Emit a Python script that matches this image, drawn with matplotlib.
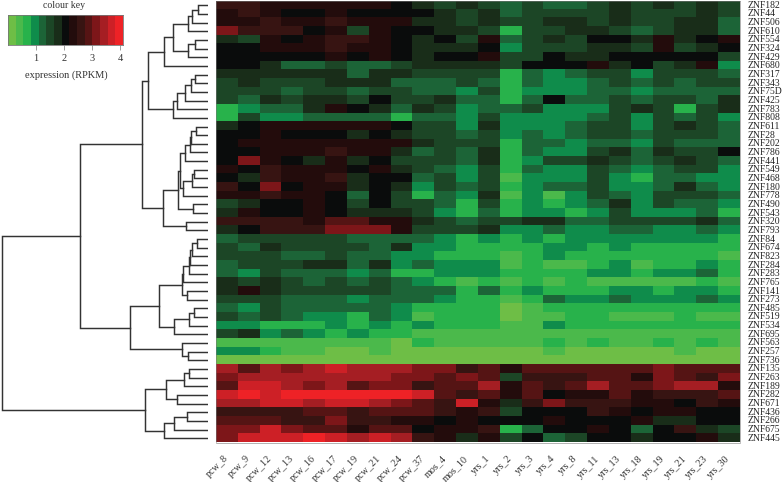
import numpy as np
import matplotlib
matplotlib.use('Agg')
import matplotlib.pyplot as plt
from matplotlib.colors import ListedColormap, BoundaryNorm

plt.rcParams['font.family'] = ['Liberation Serif', 'DejaVu Serif']

WIDTH, HEIGHT = 784, 482

stages = ['pcw_8', 'pcw_9', 'pcw_12', 'pcw_13', 'pcw_16', 'pcw_17', 'pcw_19', 'pcw_21', 'pcw_24', 'pcw_37',
          'mos_4', 'mos_10', 'yrs_1', 'yrs_2', 'yrs_3', 'yrs_4', 'yrs_8', 'yrs_11', 'yrs_13', 'yrs_18',
          'yrs_19', 'yrs_21', 'yrs_23', 'yrs_30']

genes = ['ZNF182', 'ZNF44', 'ZNF506', 'ZNF610', 'ZNF554', 'ZNF324', 'ZNF429', 'ZNF680', 'ZNF317', 'ZNF343',
         'ZNF75D', 'ZNF425', 'ZNF783', 'ZNF808', 'ZNF611', 'ZNF28', 'ZNF202', 'ZNF786', 'ZNF441', 'ZNF549',
         'ZNF468', 'ZNF180', 'ZNF778', 'ZNF490', 'ZNF543', 'ZNF320', 'ZNF793', 'ZNF84', 'ZNF674', 'ZNF823',
         'ZNF284', 'ZNF283', 'ZNF765', 'ZNF141', 'ZNF273', 'ZNF485', 'ZNF519', 'ZNF534', 'ZNF695', 'ZNF563',
         'ZNF257', 'ZNF736', 'ZNF135', 'ZNF263', 'ZNF189', 'ZNF282', 'ZNF671', 'ZNF436', 'ZNF266', 'ZNF675',
         'ZNF445']

# expression in RPKM, one row per gene
expression = [
    [2.6, 2.6, 2.3, 2.3, 2.3, 2.3, 2.3, 2.3, 2.0, 1.8, 1.5, 1.8, 1.5, 1.2, 1.5, 1.2, 1.2, 1.5, 1.8, 1.5, 1.8, 1.5, 1.8, 1.5],
    [2.3, 2.6, 2.3, 2.0, 2.0, 2.3, 2.0, 2.0, 2.0, 2.0, 1.8, 1.5, 1.8, 1.2, 1.5, 1.5, 1.5, 1.5, 1.8, 1.5, 1.5, 1.5, 1.8, 1.5],
    [2.3, 2.3, 2.6, 2.3, 2.3, 2.6, 2.3, 2.3, 2.3, 1.8, 1.8, 1.5, 1.8, 1.5, 1.5, 1.8, 1.8, 1.5, 1.8, 1.5, 1.5, 1.8, 1.8, 1.2],
    [3.1, 2.6, 2.6, 2.6, 2.0, 2.3, 1.5, 2.3, 2.0, 2.0, 1.8, 1.8, 1.5, 0.7, 1.5, 1.5, 1.8, 1.8, 1.5, 1.2, 1.5, 1.8, 1.8, 1.2],
    [1.8, 1.5, 2.3, 2.0, 2.3, 2.6, 2.6, 2.3, 2.0, 1.8, 2.0, 1.5, 2.3, 1.2, 1.5, 1.8, 1.5, 2.0, 2.0, 1.8, 2.3, 1.8, 2.0, 2.3],
    [2.0, 2.0, 2.3, 2.3, 2.3, 2.6, 2.3, 2.3, 2.0, 1.8, 1.8, 1.8, 2.0, 1.0, 1.5, 1.5, 1.5, 1.8, 1.8, 1.5, 2.3, 1.5, 1.8, 2.0],
    [2.0, 2.0, 2.0, 2.0, 2.0, 2.3, 2.0, 2.3, 2.0, 1.8, 2.0, 2.0, 2.3, 1.5, 1.5, 2.0, 1.8, 1.8, 2.0, 2.0, 2.0, 2.0, 2.0, 1.5],
    [2.0, 2.0, 1.8, 1.2, 1.2, 1.5, 1.2, 1.2, 1.5, 1.8, 1.8, 1.8, 1.8, 1.5, 2.0, 2.0, 2.0, 2.3, 1.8, 2.0, 1.5, 1.8, 2.3, 1.0],
    [1.8, 1.8, 1.8, 1.8, 1.8, 1.8, 1.2, 1.8, 1.8, 1.5, 1.5, 1.5, 1.5, 0.7, 1.2, 1.0, 1.2, 1.5, 1.5, 1.0, 1.5, 1.5, 1.5, 1.2],
    [1.5, 1.8, 1.5, 1.5, 1.5, 1.8, 1.8, 1.8, 1.2, 1.2, 1.2, 1.5, 1.2, 0.7, 1.2, 1.0, 1.0, 1.2, 1.5, 1.2, 1.5, 1.2, 1.5, 1.5],
    [1.5, 1.5, 1.5, 1.2, 1.5, 1.5, 1.2, 1.5, 1.5, 1.2, 1.2, 1.0, 1.5, 0.7, 1.0, 1.0, 1.0, 1.2, 1.2, 1.0, 1.2, 1.2, 1.2, 1.2],
    [1.5, 1.2, 1.8, 1.5, 1.8, 1.8, 1.5, 2.0, 1.5, 1.5, 1.8, 1.2, 1.2, 0.7, 1.2, 2.0, 1.2, 1.2, 1.5, 1.2, 1.5, 1.5, 1.2, 1.8],
    [0.7, 1.0, 1.2, 1.2, 1.8, 2.3, 2.0, 1.8, 1.2, 1.8, 1.5, 1.0, 1.2, 1.2, 1.5, 1.0, 1.0, 1.0, 1.5, 1.8, 1.5, 0.7, 1.5, 1.8],
    [0.7, 1.5, 1.0, 1.0, 1.2, 1.2, 1.2, 1.2, 0.7, 1.2, 1.2, 1.0, 1.5, 1.0, 1.0, 1.0, 1.0, 1.2, 1.5, 1.0, 1.5, 1.2, 1.5, 1.0],
    [1.8, 2.0, 2.3, 2.3, 2.3, 2.3, 2.3, 2.3, 2.0, 1.5, 1.5, 1.0, 1.8, 1.0, 1.0, 1.0, 1.2, 1.5, 1.5, 1.0, 1.5, 1.8, 1.5, 1.2],
    [2.0, 2.0, 2.3, 2.0, 2.0, 2.0, 1.8, 2.0, 1.8, 1.5, 1.5, 1.2, 1.5, 1.0, 1.2, 1.0, 1.2, 1.5, 1.5, 1.2, 1.5, 1.5, 1.5, 1.2],
    [2.0, 2.3, 2.3, 2.3, 2.3, 2.3, 2.3, 2.3, 2.3, 1.8, 1.5, 1.5, 1.5, 0.7, 1.2, 1.2, 1.0, 1.2, 1.2, 1.0, 1.5, 1.2, 1.2, 1.2],
    [2.0, 2.0, 2.3, 2.3, 2.3, 2.6, 2.3, 2.3, 1.8, 1.2, 1.5, 1.2, 1.8, 0.7, 1.2, 1.0, 1.0, 1.5, 1.8, 1.2, 1.8, 1.5, 1.5, 2.0],
    [2.0, 3.1, 2.3, 2.0, 1.8, 2.3, 1.8, 2.0, 1.5, 1.5, 1.5, 1.2, 1.8, 0.7, 1.0, 1.5, 1.5, 1.8, 1.5, 1.2, 1.5, 1.8, 1.5, 1.2],
    [2.3, 2.0, 2.6, 2.3, 2.3, 2.3, 2.0, 2.3, 1.8, 1.5, 1.2, 1.0, 1.5, 0.7, 1.2, 1.0, 1.0, 1.5, 1.2, 1.0, 1.2, 1.5, 1.5, 1.0],
    [2.0, 1.8, 2.6, 2.3, 2.3, 2.6, 1.8, 2.0, 2.0, 1.2, 1.5, 1.0, 1.5, 0.4, 1.0, 1.0, 1.0, 1.5, 1.0, 0.7, 1.2, 1.2, 1.0, 1.0],
    [2.6, 2.0, 3.1, 2.0, 2.3, 2.3, 1.8, 2.0, 1.8, 1.0, 1.5, 1.2, 1.5, 0.7, 1.0, 1.2, 1.2, 1.5, 1.0, 1.0, 1.2, 1.8, 1.2, 1.0],
    [2.3, 2.3, 2.6, 2.3, 2.3, 2.0, 1.2, 2.0, 1.5, 0.7, 1.2, 1.0, 1.8, 0.4, 1.0, 0.4, 1.0, 1.5, 1.2, 1.0, 1.5, 1.5, 1.5, 1.2],
    [1.5, 1.8, 2.0, 2.0, 2.3, 2.0, 1.5, 2.0, 1.5, 1.5, 1.2, 0.7, 1.5, 0.7, 1.0, 0.7, 1.0, 1.2, 1.8, 1.0, 1.5, 1.2, 1.2, 1.0],
    [1.8, 2.3, 2.0, 2.0, 2.3, 2.0, 1.8, 1.8, 1.8, 1.5, 1.0, 0.7, 1.2, 0.7, 1.0, 1.0, 0.7, 1.0, 1.5, 1.0, 1.0, 1.0, 1.2, 0.7],
    [2.6, 2.6, 2.6, 2.6, 2.3, 2.9, 2.9, 2.3, 2.3, 1.8, 1.5, 1.2, 1.5, 1.5, 1.8, 1.8, 1.2, 1.2, 1.5, 1.5, 1.5, 1.5, 1.8, 1.2],
    [1.8, 2.0, 2.6, 2.6, 2.6, 3.1, 3.1, 3.1, 2.3, 1.5, 1.5, 1.5, 1.8, 1.0, 1.0, 1.2, 1.0, 1.0, 1.2, 1.2, 1.0, 1.0, 1.2, 1.0],
    [1.2, 1.5, 1.5, 1.5, 1.5, 1.5, 1.2, 1.2, 1.2, 1.2, 1.0, 0.7, 1.0, 0.7, 1.0, 0.7, 1.0, 1.0, 1.0, 1.0, 1.0, 1.0, 1.0, 0.7],
    [1.5, 1.2, 1.8, 1.5, 1.5, 1.5, 1.5, 1.2, 1.8, 1.0, 1.0, 0.7, 0.7, 0.7, 0.7, 1.0, 1.0, 0.7, 1.0, 0.7, 0.7, 0.7, 0.7, 0.7],
    [1.5, 1.5, 1.5, 1.2, 1.2, 1.5, 1.2, 1.2, 1.0, 1.0, 0.7, 0.7, 0.7, 0.4, 0.7, 1.0, 0.7, 0.7, 0.7, 0.7, 0.7, 0.7, 0.7, 0.4],
    [1.2, 1.5, 1.5, 1.5, 1.8, 1.8, 1.2, 1.8, 1.0, 1.2, 1.0, 1.0, 1.0, 0.4, 0.7, 0.4, 0.4, 0.7, 1.0, 0.4, 0.7, 0.7, 1.0, 0.7],
    [1.2, 1.0, 1.5, 1.2, 1.2, 1.2, 1.0, 1.2, 0.7, 0.7, 1.0, 1.0, 1.0, 0.7, 0.7, 0.7, 0.7, 1.0, 1.0, 0.7, 1.0, 1.0, 1.2, 0.7],
    [1.8, 1.5, 1.8, 1.5, 1.2, 1.5, 1.2, 1.5, 1.2, 1.0, 0.7, 0.4, 0.7, 0.4, 0.7, 0.4, 0.7, 0.4, 0.4, 0.4, 0.4, 0.4, 0.7, 0.4],
    [1.8, 2.3, 1.8, 1.5, 1.5, 1.5, 1.5, 1.5, 1.2, 1.2, 1.2, 0.7, 1.2, 0.7, 1.0, 0.7, 0.7, 0.7, 1.0, 1.0, 0.7, 1.0, 1.0, 0.7],
    [1.5, 1.5, 1.5, 1.2, 1.2, 1.2, 1.0, 1.2, 1.2, 1.2, 1.0, 0.7, 0.7, 0.4, 0.7, 1.2, 1.0, 1.0, 1.2, 1.0, 1.0, 1.0, 1.2, 1.0],
    [1.2, 1.0, 1.5, 1.2, 1.2, 1.2, 1.2, 1.2, 1.0, 0.7, 0.7, 0.7, 0.7, 0.1, 0.4, 0.7, 0.7, 0.7, 0.7, 0.7, 0.7, 0.7, 0.7, 0.7],
    [1.5, 1.2, 1.5, 1.2, 1.0, 1.0, 0.7, 1.2, 1.0, 0.4, 0.7, 0.7, 0.7, 0.1, 0.4, 0.4, 0.7, 0.7, 0.4, 0.4, 0.4, 0.7, 0.4, 0.4],
    [1.0, 1.0, 0.7, 0.7, 0.7, 1.0, 0.7, 1.0, 0.7, 1.0, 0.7, 0.7, 0.7, 0.4, 0.4, 1.0, 0.7, 0.7, 0.7, 0.7, 0.7, 0.7, 0.7, 0.7],
    [1.5, 1.8, 1.0, 1.2, 1.0, 0.7, 1.0, 0.7, 0.7, 0.4, 0.4, 0.4, 0.4, 0.4, 0.4, 0.4, 0.4, 0.4, 0.4, 0.4, 0.4, 0.4, 0.4, 0.4],
    [0.4, 0.4, 0.4, 0.4, 0.4, 0.4, 0.4, 0.4, 0.1, 0.7, 0.4, 0.4, 0.4, 0.4, 0.4, 0.7, 0.4, 0.7, 0.4, 0.4, 0.7, 0.4, 0.7, 0.4],
    [1.0, 1.0, 0.7, 0.4, 0.4, 0.1, 0.1, 0.4, 0.1, 0.1, 0.1, 0.1, 0.1, 0.1, 0.1, 0.4, 0.1, 0.1, 0.1, 0.1, 0.1, 0.4, 0.1, 0.1],
    [0.1, 0.1, 0.1, 0.1, 0.1, 0.1, 0.1, 0.1, 0.1, 0.1, 0.1, 0.1, 0.1, 0.1, 0.1, 0.1, 0.1, 0.1, 0.1, 0.1, 0.1, 0.1, 0.1, 0.1],
    [3.4, 2.9, 3.4, 3.1, 3.4, 3.7, 3.4, 3.4, 3.4, 3.1, 3.1, 2.6, 2.9, 2.3, 2.9, 2.9, 2.9, 2.9, 2.9, 2.9, 3.1, 2.9, 2.9, 2.9],
    [3.1, 3.4, 3.4, 3.4, 3.4, 3.4, 3.4, 3.4, 3.1, 3.1, 2.9, 3.1, 2.9, 1.5, 2.6, 2.6, 2.6, 2.9, 2.9, 2.3, 3.1, 2.9, 2.6, 3.1],
    [2.9, 3.7, 3.7, 3.4, 3.1, 3.4, 2.9, 3.1, 3.1, 2.6, 2.9, 2.9, 3.4, 2.3, 2.9, 2.6, 2.9, 3.4, 2.9, 2.9, 3.1, 3.4, 3.4, 2.3],
    [3.7, 4.0, 3.7, 4.0, 4.0, 4.0, 4.0, 4.0, 4.0, 3.7, 2.9, 2.6, 2.9, 2.3, 2.9, 2.0, 2.3, 2.3, 2.9, 2.3, 2.6, 2.6, 2.6, 2.9],
    [3.4, 3.4, 3.7, 3.7, 3.4, 3.7, 3.7, 3.4, 3.1, 2.9, 2.6, 3.7, 2.3, 1.8, 2.6, 3.1, 2.6, 2.6, 2.6, 2.3, 2.3, 2.0, 2.6, 2.3],
    [2.6, 2.6, 2.6, 2.6, 2.9, 2.9, 2.6, 2.9, 2.9, 2.9, 2.6, 2.3, 2.6, 1.5, 2.0, 2.0, 2.0, 2.6, 2.3, 2.0, 2.3, 2.3, 2.0, 2.0],
    [2.9, 2.9, 2.9, 2.6, 2.6, 3.1, 2.6, 2.6, 2.3, 2.3, 2.0, 2.3, 2.0, 2.0, 2.0, 2.3, 2.0, 2.0, 2.0, 2.3, 1.8, 1.8, 2.0, 2.0],
    [3.1, 3.1, 3.7, 3.1, 2.9, 2.9, 2.3, 2.9, 2.9, 2.0, 2.3, 2.3, 2.6, 0.7, 1.2, 2.0, 2.0, 2.3, 2.0, 1.2, 2.0, 2.6, 1.8, 1.5],
    [3.1, 3.7, 3.7, 3.7, 4.0, 3.7, 3.4, 3.7, 3.4, 2.6, 2.3, 1.8, 2.3, 1.5, 2.0, 1.2, 1.5, 2.0, 2.0, 1.8, 2.0, 2.0, 2.3, 1.8],
]

# clustering of the genes, each merge is (distance, upper branch, lower branch), a leaf is a row number
cluster_a = (60,
             (44, (35, (20, (16, (10, 0, 1), 2), 3), (20, (13, 4, 5), 6)), 7),
             (35, (31, (23, (17, (13, 8, 9), 10), 11), 12), 13))
cluster_b = (45,
             (30, (28, (23, (18, (17, (12, 14, 15), 16), 17), 18), (25, (16, (14, 19, 20), 21), 22)), (15, 23, 24)),
             (22, 25, 26))
cluster_c = (49,
             (26, (25, (19, (18, (16, (11, 27, 28), 29), 30), 31), 32), (21, 33, 34)),
             (34, (19, (14, 35, 36), 37), 38))
cluster_d = (26, 39, (20, 40, 41))
cluster_e = (63,
             (42, (24, (19, 42, 43), 44), (31, 45, 46)),
             (44, (34, (21, 47, 48), 49), 50))
gene_tree = (206, (128, (66, cluster_a, cluster_b), (78, cluster_c, cluster_d)), cluster_e)

key_colours = ['#6ebe46', '#4bb94b', '#28b24b', '#0f8c4b', '#1c6437', '#1c4626', '#192d19', '#0a0c0c',
               '#230c0c', '#371412', '#551414', '#7d1619', '#a51e23', '#cd2026', '#ee2226']
key_edges = np.linspace(0, 4.1, 16)
key_ticks = [1, 2, 3, 4]

cmap = ListedColormap(key_colours)
norm = BoundaryNorm(key_edges, cmap.N)
textColour = '#333333'
lineColour = '#333333'


def pxAxes(fig, left, top, right, bottom):
    return fig.add_axes([left / WIDTH, 1 - bottom / HEIGHT, (right - left) / WIDTH, (bottom - top) / HEIGHT])


def drawTree(ax, node):
    # returns distance and row position of the node
    if not isinstance(node, tuple):
        return 0, node
    dist, upper, lower = node
    d1, y1 = drawTree(ax, upper)
    d2, y2 = drawTree(ax, lower)
    ax.plot([d1, dist, dist, d2], [y1, y1, y2, y2], color=lineColour, lw=1.05, solid_joinstyle='miter')
    return dist, (y1 + y2) / 2


fig = plt.figure(figsize=(WIDTH / 100, HEIGHT / 100), dpi=100, facecolor='white')

# heatmap
ax = pxAxes(fig, 216, 1, 739.5, 442.5)
ax.imshow(np.array(expression), cmap=cmap, norm=norm, aspect='auto', interpolation='nearest')
ax.set_xticks(range(len(stages)))
ax.set_xticklabels(stages, rotation=45, ha='right', va='center', rotation_mode='anchor', fontsize=7.3, color=textColour)
ax.tick_params(axis='x', length=0, pad=10.5)
ax.yaxis.tick_right()
ax.set_yticks(range(len(genes)))
ax.set_yticklabels(genes, fontsize=6.9, color='#222222', va='center')
ax.tick_params(axis='y', length=0, pad=6)
for s in ax.spines.values():
    s.set_color('#777777')
    s.set_linewidth(0.4)

# dendrogram, distance runs to the left
tree = pxAxes(fig, 0, 1, 208, 442.5)
drawTree(tree, gene_tree)
tree.set_xlim(208, 0)
tree.set_ylim(len(genes) - 0.5, -0.5)
tree.axis('off')

# colour key
key = pxAxes(fig, 8, 14.7, 123, 45)
key.pcolormesh(key_edges, [0, 1], [(key_edges[:-1] + key_edges[1:]) / 2], cmap=cmap, norm=norm)
key.set_yticks([])
key.set_xticks(key_ticks)
key.tick_params(axis='x', length=3.5, width=0.5, color='#777777', labelsize=7.5, labelcolor=textColour, pad=3)
for s in key.spines.values():
    s.set_color('#777777')
    s.set_linewidth(0.6)
fig.text(64 / WIDTH, 1 - 5.5 / HEIGHT, 'colour key', ha='center', va='center', fontsize=7, color=textColour)
fig.text(66 / WIDTH, 1 - 75 / HEIGHT, 'expression (RPKM)', ha='center', va='center', fontsize=7.5, color=textColour)

fig.savefig('out.png', dpi=100, facecolor='white')
